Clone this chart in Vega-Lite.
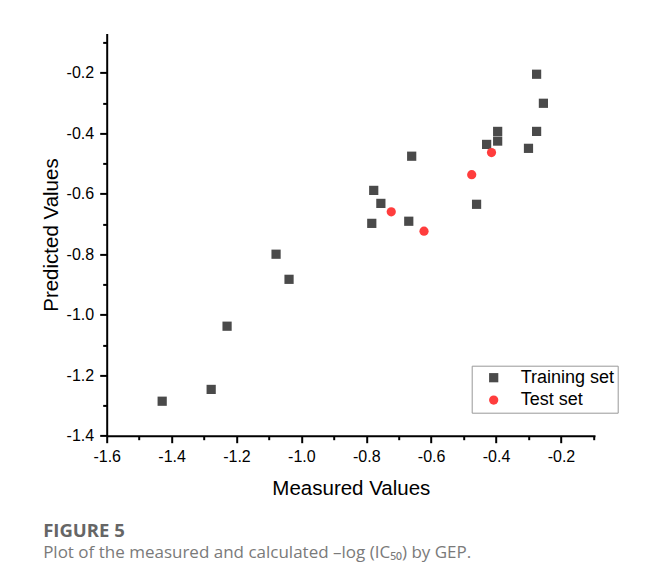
{
  "$schema": "https://vega.github.io/schema/vega-lite/v6.json",
  "width": 488.3,
  "height": 402.3,
  "autosize": {"type": "none"},
  "padding": {"left": 106.7, "top": 33.4, "right": 51, "bottom": 146.3},
  "background": "white",
  "title": {
    "text": "FIGURE 5",
    "subtitle": "Plot of the measured and calculated –log (IC₅₀) by GEP.",
    "orient": "bottom",
    "anchor": "start",
    "frame": "bounds",
    "dx": 2,
    "font": "Open Sans",
    "fontSize": 18.5,
    "fontWeight": "bold",
    "color": "#666666",
    "subtitleFont": "Open Sans",
    "subtitleFontSize": 17,
    "subtitleColor": "#7a7a7a",
    "subtitlePadding": 4,
    "offset": 23
  },
  "data": {
    "values": [
      {"measured": -0.275, "predicted": -0.205, "set": "Training set"},
      {"measured": -0.254, "predicted": -0.301, "set": "Training set"},
      {"measured": -0.395, "predicted": -0.394, "set": "Training set"},
      {"measured": -0.275, "predicted": -0.394, "set": "Training set"},
      {"measured": -0.395, "predicted": -0.426, "set": "Training set"},
      {"measured": -0.429, "predicted": -0.437, "set": "Training set"},
      {"measured": -0.300, "predicted": -0.450, "set": "Training set"},
      {"measured": -0.660, "predicted": -0.476, "set": "Training set"},
      {"measured": -0.777, "predicted": -0.589, "set": "Training set"},
      {"measured": -0.755, "predicted": -0.632, "set": "Training set"},
      {"measured": -0.783, "predicted": -0.698, "set": "Training set"},
      {"measured": -0.669, "predicted": -0.691, "set": "Training set"},
      {"measured": -0.460, "predicted": -0.635, "set": "Training set"},
      {"measured": -1.078, "predicted": -0.800, "set": "Training set"},
      {"measured": -1.038, "predicted": -0.883, "set": "Training set"},
      {"measured": -1.229, "predicted": -1.038, "set": "Training set"},
      {"measured": -1.278, "predicted": -1.247, "set": "Training set"},
      {"measured": -1.429, "predicted": -1.286, "set": "Training set"},
      {"measured": -0.414, "predicted": -0.464, "set": "Test set"},
      {"measured": -0.475, "predicted": -0.537, "set": "Test set"},
      {"measured": -0.723, "predicted": -0.660, "set": "Test set"},
      {"measured": -0.622, "predicted": -0.724, "set": "Test set"}
    ]
  },
  "mark": {"type": "point", "filled": true, "opacity": 1, "size": 85},
  "encoding": {
    "x": {
      "field": "measured",
      "type": "quantitative",
      "scale": {"domain": [-1.6, -0.095], "nice": false, "zero": false},
      "axis": {
        "title": "Measured Values",
        "values": [-1.6, -1.5, -1.4, -1.3, -1.2, -1.1, -1.0, -0.9, -0.8, -0.7, -0.6, -0.5, -0.4, -0.3, -0.2, -0.1],
        "labelExpr": "abs(round(datum.value*10)) % 2 == 0 ? replace(format(datum.value, '.1f'), '−', '-') : ''",
        "tickSize": {"condition": {"test": "abs(round(datum.value*10)) % 2 == 0", "value": 7}, "value": 4},
        "labelPadding": 6,
        "titlePadding": 14
      }
    },
    "y": {
      "field": "predicted",
      "type": "quantitative",
      "scale": {"domain": [-1.4, -0.07], "nice": false, "zero": false},
      "axis": {
        "title": "Predicted Values",
        "values": [-1.4, -1.3, -1.2, -1.1, -1.0, -0.9, -0.8, -0.7, -0.6, -0.5, -0.4, -0.3, -0.2, -0.1],
        "labelExpr": "abs(round(datum.value*10)) % 2 == 0 ? replace(format(datum.value, '.1f'), '−', '-') : ''",
        "tickSize": {"condition": {"test": "abs(round(datum.value*10)) % 2 == 0", "value": 7}, "value": 4},
        "labelPadding": 6,
        "titlePadding": 5
      }
    },
    "color": {
      "field": "set",
      "type": "nominal",
      "scale": {"domain": ["Training set", "Test set"], "range": ["#4a4a4a", "#ff3d3d"]},
      "legend": {
        "title": null,
        "orient": "none",
        "legendX": 365,
        "legendY": 332.3,
        "strokeColor": "#999999",
        "fillColor": "white",
        "padding": 3,
        "symbolOffset": 10,
        "labelOffset": 18,
        "labelFontSize": 18,
        "labelFont": "Liberation Sans",
        "labelColor": "black",
        "symbolSize": 85,
        "rowPadding": 4.4,
        "labelLimit": 300
      }
    },
    "shape": {
      "field": "set",
      "type": "nominal",
      "scale": {"domain": ["Training set", "Test set"], "range": ["square", "circle"]},
      "legend": {
        "title": null,
        "orient": "none",
        "legendX": 365,
        "legendY": 332.3,
        "strokeColor": "#999999",
        "fillColor": "white",
        "padding": 3,
        "symbolOffset": 10,
        "labelOffset": 18,
        "labelFontSize": 18,
        "labelFont": "Liberation Sans",
        "labelColor": "black",
        "symbolSize": 85,
        "rowPadding": 4.4,
        "labelLimit": 300
      }
    }
  },
  "config": {
    "font": "Liberation Sans",
    "view": {"stroke": null},
    "axis": {
      "grid": false,
      "domainColor": "black",
      "domainWidth": 2,
      "tickColor": "black",
      "tickWidth": 2,
      "labelFont": "Liberation Sans",
      "labelFontSize": 16,
      "labelColor": "black",
      "labelFlush": false,
      "labelOverlap": false,
      "titleFont": "Liberation Sans",
      "titleFontSize": 20.5,
      "titleFontWeight": "normal",
      "titleColor": "black"
    }
  }
}
